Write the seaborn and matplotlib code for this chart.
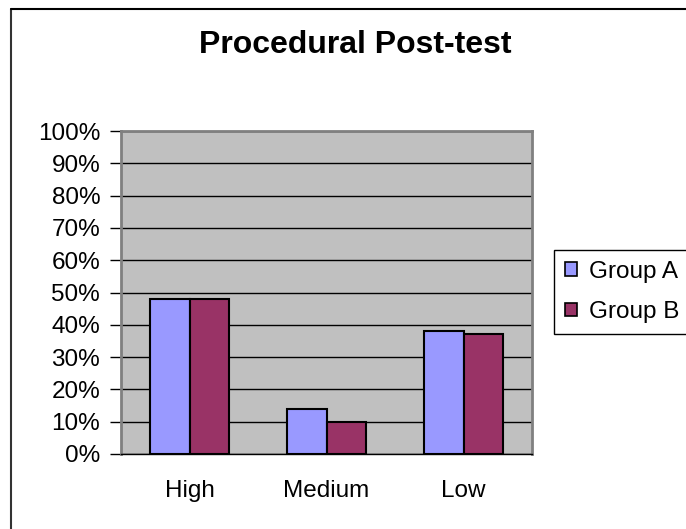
import pandas as pd
import matplotlib
matplotlib.use('Agg')
import matplotlib.pyplot as plt
import seaborn as sns
from matplotlib.patches import Patch
from matplotlib.lines import Line2D
from matplotlib.ticker import PercentFormatter, FixedLocator

# Data
levels = ['High', 'Medium', 'Low']
group_a = [48, 14, 38]
group_b = [48, 10, 37]
groups = ['Group A', 'Group B']
colors = ['#9999FF', '#993366']

df = pd.DataFrame({
    'level': levels * 2,
    'pct': group_a + group_b,
    'group': [groups[0]] * 3 + [groups[1]] * 3,
})

sns.set_style('white')
plt.rcParams['font.family'] = ['Liberation Sans', 'DejaVu Sans']
plt.rcParams['text.color'] = 'black'
plt.rcParams['xtick.color'] = 'black'
plt.rcParams['ytick.color'] = 'black'

W, H = 686, 529
fig = plt.figure(figsize=(W / 100, H / 100), dpi=100)
ax = fig.add_axes([121 / W, (H - 454) / H, 411 / W, 323 / H])
ax.set_facecolor('#C0C0C0')

sns.barplot(data=df, x='level', y='pct', hue='group', palette=colors, saturation=1,
            edgecolor='black', linewidth=1.5, width=0.58, gap=0,
            legend=False, ax=ax)

ax.set_ylim(0, 100)
ax.set_xlim(-0.5, 2.5)
ax.set_yticks(range(0, 101, 10))
ax.yaxis.set_major_formatter(PercentFormatter(decimals=0))
ax.set_axisbelow(True)
ax.yaxis.grid(True, color='black', linewidth=1)
ax.set_xlabel('')
ax.set_ylabel('')

# category boundaries as tick marks, labels at the centres
ax.xaxis.set_minor_locator(FixedLocator([-0.5, 0.5, 1.5, 2.5]))
ax.tick_params(axis='x', which='major', length=0, pad=19, labelsize=17.5, labelcolor='black')
ax.tick_params(axis='x', which='minor', length=8, width=1, color='black', direction='out')
ax.tick_params(axis='y', which='major', left=True, length=8, width=1, color='black',
               direction='out', pad=7, labelsize=17.5, labelcolor='black')

for side in ['left', 'right', 'top']:
    ax.spines[side].set_color('#808080')
    ax.spines[side].set_linewidth(2)
ax.spines['bottom'].set_color('black')
ax.spines['bottom'].set_linewidth(1)

fig.text(355 / W, 1 - 45 / H, 'Procedural Post-test', ha='center', va='center',
         fontsize=23, fontweight='bold', color='black')

handles = [Patch(facecolor=c, edgecolor='black', linewidth=1.2) for c in colors]
fig.legend(handles, groups, loc='upper left', bbox_to_anchor=(554 / W, 1 - 250 / H),
           frameon=True, fancybox=False, edgecolor='black', framealpha=1,
           fontsize=17.5, handlelength=0.5, handleheight=0.5, handletextpad=0.5,
           borderpad=0.45, labelspacing=0.75, borderaxespad=0)

# outer chart border (left and top edges visible)
fig.add_artist(Line2D([11 / W, 11 / W], [0, 1 - 8.5 / H], color='#333333', linewidth=1.5))
fig.add_artist(Line2D([11 / W, 1], [1 - 8.5 / H, 1 - 8.5 / H], color='black', linewidth=1.5))

fig.savefig('out.png', dpi=100)
